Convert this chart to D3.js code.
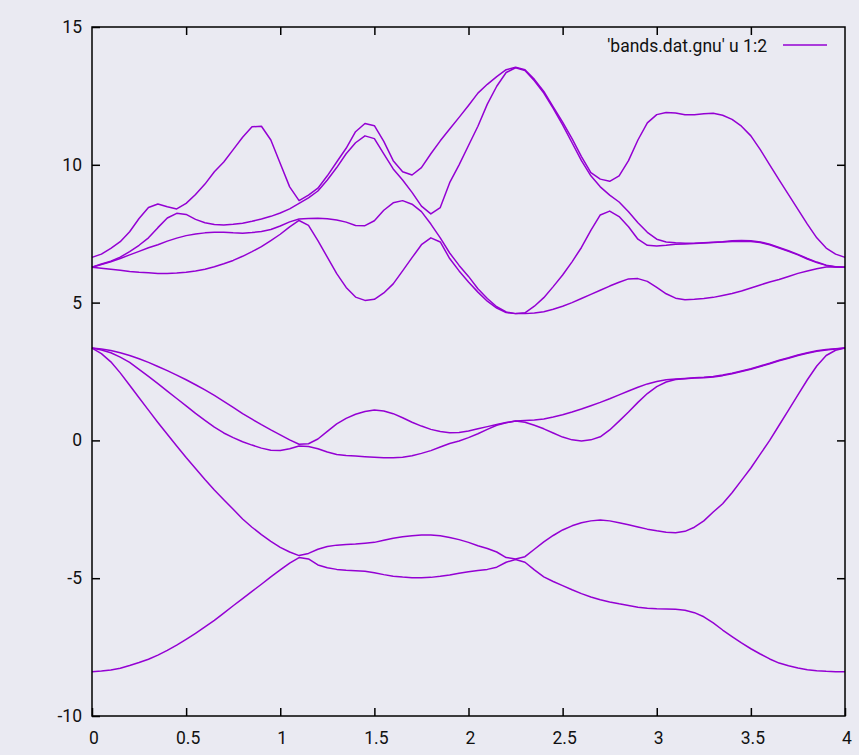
<!DOCTYPE html>
<html>
<head>
<meta charset="utf-8">
<script src="https://cdn.jsdelivr.net/npm/d3@7"></script>
<style>
  body { margin: 0; background: #eaeaf2; }
  svg { display: block; }
  text { font-family: Roboto, "Noto Sans", sans-serif; font-size: 17.5px; fill: #111; }
</style>
</head>
<body>
<div id="chart"></div>
<script>
// k-path grid (x column of bands.dat.gnu)
var kpath = [0, 0.05, 0.1, 0.15, 0.2, 0.25, 0.3, 0.35, 0.4, 0.45,
  0.5, 0.55, 0.6, 0.65, 0.7, 0.75, 0.8, 0.85, 0.9, 0.95,
  1.0, 1.05, 1.1, 1.15, 1.2, 1.25, 1.3, 1.35, 1.4, 1.45,
  1.5, 1.55, 1.6, 1.65, 1.7, 1.75, 1.8, 1.85, 1.9, 1.95,
  2.0, 2.05, 2.1, 2.15, 2.2, 2.25, 2.3, 2.35, 2.4, 2.45,
  2.5, 2.55, 2.6, 2.65, 2.7, 2.75, 2.8, 2.85, 2.9, 2.95,
  3.0, 3.05, 3.1, 3.15, 3.2, 3.25, 3.3, 3.35, 3.4, 3.45,
  3.5, 3.55, 3.6, 3.65, 3.7, 3.75, 3.8, 3.85, 3.9, 3.95, 4.0];

// energies, one array per band (lowest first)
var band1 = [-8.39, -8.37, -8.33, -8.27, -8.17, -8.06, -7.94, -7.79, -7.62, -7.43,
  -7.22, -7.0, -6.77, -6.53, -6.27, -6.0, -5.74, -5.48, -5.22, -4.95,
  -4.7, -4.45, -4.25, -4.3, -4.52, -4.62, -4.68, -4.71, -4.73, -4.75,
  -4.8, -4.87, -4.93, -4.96, -4.98, -4.98, -4.97, -4.93, -4.88, -4.82,
  -4.77, -4.72, -4.68, -4.6, -4.42, -4.32, -4.42, -4.7, -4.95, -5.12,
  -5.27, -5.42, -5.56, -5.68, -5.78, -5.86, -5.93, -5.99, -6.05, -6.09,
  -6.11, -6.12, -6.13, -6.16, -6.25, -6.4, -6.62, -6.88, -7.12, -7.35,
  -7.56, -7.75, -7.93, -8.08, -8.18, -8.26, -8.32, -8.36, -8.38, -8.39, -8.39];

var band2 = [3.35, 3.15, 2.85, 2.45, 2.0, 1.55, 1.1, 0.65, 0.22, -0.2,
  -0.62, -1.02, -1.42, -1.8, -2.15, -2.5, -2.85, -3.15, -3.42, -3.66,
  -3.88, -4.05, -4.18, -4.1, -3.95, -3.85, -3.8, -3.78, -3.76, -3.73,
  -3.7, -3.62, -3.55, -3.5, -3.46, -3.43, -3.43, -3.46, -3.52, -3.6,
  -3.7, -3.82, -3.92, -4.05, -4.25, -4.3, -4.22, -3.95, -3.68, -3.45,
  -3.25, -3.1, -2.99, -2.92, -2.89, -2.92, -2.99, -3.06, -3.14, -3.22,
  -3.28, -3.33, -3.35, -3.3, -3.15, -2.92, -2.6, -2.3, -1.9, -1.45,
  -1.0, -0.5, 0.0, 0.55, 1.1, 1.65, 2.2, 2.7, 3.08, 3.27, 3.35];

var band3 = [3.35, 3.28, 3.18, 3.02, 2.83, 2.58, 2.32, 2.06, 1.79, 1.52,
  1.25, 0.98, 0.73, 0.48, 0.27, 0.1, -0.05, -0.17, -0.28, -0.36,
  -0.37, -0.3, -0.2, -0.22, -0.3, -0.42, -0.51, -0.55, -0.57, -0.59,
  -0.61, -0.63, -0.63, -0.61, -0.56, -0.47, -0.37, -0.24, -0.11, -0.02,
  0.1, 0.24, 0.4, 0.55, 0.64, 0.7, 0.66, 0.55, 0.42, 0.27,
  0.12, 0.02, -0.02, 0.02, 0.13, 0.38, 0.7, 1.03, 1.38, 1.7,
  1.95, 2.12, 2.21, 2.24, 2.26, 2.27, 2.3, 2.35, 2.42, 2.5,
  2.58, 2.68, 2.78, 2.89, 2.98, 3.08, 3.16, 3.23, 3.28, 3.32, 3.35];

var band4 = [3.35, 3.32, 3.26, 3.18, 3.08, 2.96, 2.83, 2.68, 2.53, 2.37,
  2.2, 2.02, 1.83, 1.63, 1.42, 1.2, 0.97, 0.77, 0.57, 0.38,
  0.2, 0.02, -0.14, -0.12, 0.05, 0.33, 0.6, 0.8, 0.95, 1.05,
  1.1, 1.07, 0.97, 0.82, 0.66, 0.52, 0.4, 0.32, 0.28, 0.29,
  0.34, 0.42, 0.5, 0.58, 0.65, 0.7, 0.72, 0.74, 0.78, 0.85,
  0.93, 1.03, 1.14, 1.26, 1.38, 1.51, 1.65, 1.79, 1.93, 2.05,
  2.14, 2.2, 2.23, 2.25, 2.27, 2.29, 2.32, 2.37, 2.44, 2.52,
  2.6, 2.7, 2.8, 2.91, 3.0, 3.1, 3.18, 3.25, 3.3, 3.33, 3.35];

var band5 = [6.28, 6.25, 6.21, 6.17, 6.13, 6.1, 6.08, 6.06, 6.06, 6.07,
  6.1, 6.15, 6.21, 6.3, 6.41, 6.53, 6.68, 6.85, 7.03, 7.25,
  7.48, 7.75, 7.98, 7.8, 7.25, 6.65, 6.05, 5.55, 5.2, 5.08,
  5.12, 5.35, 5.68, 6.15, 6.63, 7.1, 7.35, 7.2, 6.6, 6.15,
  5.75, 5.38, 5.05, 4.8, 4.64, 4.6, 4.6, 4.62, 4.67, 4.76,
  4.87, 5.0, 5.15, 5.3, 5.45, 5.6, 5.74, 5.86, 5.87, 5.77,
  5.55, 5.32, 5.16, 5.1, 5.12, 5.15, 5.19, 5.26, 5.33, 5.42,
  5.53, 5.64, 5.75, 5.84, 5.95, 6.06, 6.15, 6.23, 6.29, 6.3, 6.28];

var band6 = [6.28, 6.38, 6.48, 6.6, 6.73, 6.86, 6.99, 7.1, 7.23, 7.34,
  7.43, 7.49, 7.53, 7.55, 7.55, 7.53, 7.52, 7.54, 7.58, 7.65,
  7.78, 7.93, 8.03, 8.05, 8.06, 8.04, 8.0, 7.92, 7.8, 7.79,
  7.97, 8.35, 8.62, 8.7, 8.57, 8.3, 7.85, 7.35, 6.8, 6.35,
  5.95, 5.5, 5.15, 4.85, 4.66, 4.6, 4.63, 4.87, 5.18, 5.58,
  6.0, 6.48, 7.0, 7.62, 8.18, 8.32, 8.12, 7.75, 7.3, 7.08,
  7.05, 7.08, 7.12, 7.13, 7.14, 7.16, 7.18, 7.2, 7.22, 7.23,
  7.22, 7.18, 7.1, 6.98, 6.86, 6.73, 6.58, 6.45, 6.35, 6.29, 6.28];

var band7 = [6.28, 6.4, 6.5, 6.65, 6.85, 7.08, 7.35, 7.72, 8.07, 8.24,
  8.2, 8.02, 7.9, 7.83, 7.82, 7.84, 7.88, 7.95, 8.03, 8.13,
  8.25, 8.4, 8.6, 8.8, 9.05, 9.45, 9.9, 10.4, 10.8, 11.05,
  10.95, 10.4, 9.85, 9.45, 9.0, 8.5, 8.22, 8.45, 9.35, 10.0,
  10.7, 11.4, 12.2, 12.85, 13.35, 13.52, 13.42, 13.05, 12.6, 12.05,
  11.45, 10.8, 10.15, 9.6, 9.2, 8.9, 8.65, 8.3, 7.9, 7.55,
  7.3, 7.2, 7.17, 7.15, 7.15, 7.17, 7.19, 7.21, 7.24, 7.25,
  7.24, 7.2, 7.12, 7.0, 6.88, 6.75, 6.6, 6.47, 6.36, 6.3, 6.28];

var band8 = [6.64, 6.76, 6.97, 7.21, 7.57, 8.05, 8.45, 8.58, 8.48, 8.4,
  8.6, 8.92, 9.3, 9.75, 10.1, 10.55, 11.0, 11.38, 11.4, 10.9,
  10.05, 9.2, 8.7, 8.9, 9.15, 9.6, 10.1, 10.6, 11.2, 11.5,
  11.42, 10.85, 10.15, 9.75, 9.63, 9.9, 10.4, 10.87, 11.3, 11.72,
  12.15, 12.6, 12.92, 13.2, 13.45, 13.54, 13.45, 13.1, 12.66, 12.1,
  11.55, 10.95, 10.3, 9.72, 9.48, 9.4, 9.6, 10.15, 10.9, 11.52,
  11.82, 11.9, 11.88, 11.82, 11.82, 11.85, 11.87, 11.8, 11.65, 11.4,
  11.05, 10.55, 10.0, 9.45, 8.92, 8.38, 7.85, 7.35, 6.98, 6.76, 6.64];

var bands = [band1, band2, band3, band4, band5, band6, band7, band8];

var xTicks = [0, 0.5, 1, 1.5, 2, 2.5, 3, 3.5, 4];
var yTicks = [-10, -5, 0, 5, 10, 15];
var legendLabel = "'bands.dat.gnu' u 1:2";
var lineColor = "#9400d3";

var width = 859;
var height = 755;
var plot = { left: 92, right: 845, top: 27, bottom: 716 };
var tickLen = 8;

var svg = d3.select("#chart").append("svg")
  .attr("width", width).attr("height", height);

svg.append("rect").attr("width", width).attr("height", height).attr("fill", "#eaeaf2");

var x = d3.scaleLinear().domain([0, 4]).range([plot.left, plot.right]);
var y = d3.scaleLinear().domain([-10, 15]).range([plot.bottom, plot.top]);

// data first, border goes on top like gnuplot
var line = d3.line()
  .x(function(d) { return x(d[0]); })
  .y(function(d) { return y(d[1]); });

svg.append("g").selectAll("path")
  .data(bands)
  .enter().append("path")
  .attr("d", function(b) { return line(d3.zip(kpath, b)); })
  .attr("fill", "none")
  .attr("stroke", lineColor)
  .attr("stroke-width", 1.5)
  .attr("stroke-linejoin", "round");

function drawTicks(g, axis, scale, ticks, inner) {
  g.append("g")
    .attr("transform", axis)
    .call(scale.tickValues(ticks).tickSize(inner).tickSizeOuter(0).tickPadding(10))
    .call(function(s) {
      s.select(".domain").remove();
      s.selectAll(".tick line").attr("stroke", "#000").attr("stroke-width", 1.5);
    });
}

var axes = svg.append("g");

// bottom axis with labels
drawTicks(axes, "translate(0," + plot.bottom + ")", d3.axisTop(x).tickFormat(""), xTicks, tickLen);
axes.append("g").selectAll("text")
  .data(xTicks)
  .enter().append("text")
  .attr("x", function(d) { return x(d) + 2; })
  .attr("y", plot.bottom + 28)
  .attr("text-anchor", "middle")
  .text(function(d) { return d; });

// top mirror ticks
drawTicks(axes, "translate(0," + plot.top + ")", d3.axisBottom(x).tickFormat(""), xTicks.slice(1, -1), tickLen);

// left axis with labels
drawTicks(axes, "translate(" + plot.left + ",0)", d3.axisRight(y).tickFormat(""), yTicks, tickLen);
axes.append("g").selectAll("text")
  .data(yTicks)
  .enter().append("text")
  .attr("x", plot.left - 10)
  .attr("y", function(d) { return y(d) + 6; })
  .attr("text-anchor", "end")
  .text(function(d) { return d; });

// right mirror ticks
drawTicks(axes, "translate(" + plot.right + ",0)", d3.axisLeft(y).tickFormat(""), yTicks.slice(1, -1), tickLen);

// border
svg.append("rect")
  .attr("x", plot.left).attr("y", plot.top)
  .attr("width", plot.right - plot.left).attr("height", plot.bottom - plot.top)
  .attr("fill", "none").attr("stroke", "#000").attr("stroke-width", 1.5);

// key
var key = svg.append("g");
key.append("text")
  .attr("x", 767).attr("y", 52)
  .attr("text-anchor", "end")
  .text(legendLabel);
key.append("line")
  .attr("x1", 783).attr("x2", 827)
  .attr("y1", 45).attr("y2", 45)
  .attr("stroke", lineColor).attr("stroke-width", 1.5);
</script>
</body>
</html>
